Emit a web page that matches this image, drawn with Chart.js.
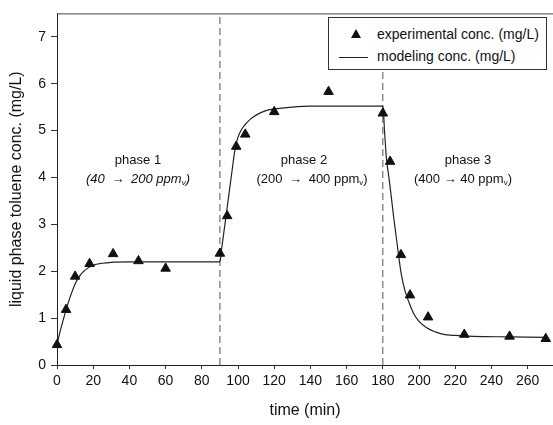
<!DOCTYPE html>
<html>
<head>
<meta charset="utf-8">
<script src="https://cdn.jsdelivr.net/npm/chart.js@4.4.1/dist/chart.umd.min.js"></script>
<style>
  body { margin: 0; background: #fff; }
  #wrap { position: relative; width: 553px; height: 425px; font-family: "Liberation Sans", Arial, sans-serif; color: #111; }
  #grafica { position: absolute; left: 0; top: 0; }
  .lbl { position: absolute; width: 160px; text-align: center; font-size: 13px; line-height: 16px; white-space: nowrap; }
  .lbl sub { font-size: 8px; vertical-align: -2px; }
  .lbl .fl { margin: 0 3px; }
  #leyenda { position: absolute; left: 328px; top: 17px; width: 219px; height: 53px; box-sizing: border-box; border: 1px solid #333; background: #fff; font-size: 14px; }
  #leyenda .tri { position: absolute; left: 22px; top: 11px; width: 0; height: 0; border-left: 5px solid transparent; border-right: 5px solid transparent; border-bottom: 9px solid #111; }
  #leyenda .lin { position: absolute; left: 10px; top: 39px; width: 29px; border-top: 1px solid #222; }
  #leyenda .t { position: absolute; left: 48px; line-height: 16px; white-space: nowrap; }
</style>
</head>
<body>
<div id="wrap">
  <canvas id="grafica" width="553" height="425"></canvas>
  <div class="lbl" style="left:58px;top:152px;">phase 1</div>
  <div class="lbl" style="left:58px;top:171px;font-style:italic;">(40 <span class="fl">→</span> 200 ppm<sub>v</sub>)</div>
  <div class="lbl" style="left:224px;top:152px;">phase 2</div>
  <div class="lbl" style="left:232px;top:171px;">(200 <span class="fl">→</span> 400 ppm<sub>v</sub>)</div>
  <div class="lbl" style="left:388px;top:152px;">phase 3</div>
  <div class="lbl" style="left:383px;top:171px;">(400 → 40 ppm<sub>v</sub>)</div>
  <div id="leyenda">
    <div class="tri"></div>
    <div class="t" style="top:8px;">experimental conc. (mg/L)</div>
    <div class="lin"></div>
    <div class="t" style="top:30px;">modeling conc. (mg/L)</div>
  </div>
</div>
<script>
// experimental points
const expTime = [0, 5, 10, 18, 31, 45, 60, 90, 94, 99, 104, 120, 150, 180, 184, 190, 195, 205, 225, 250, 270];
const expConc = [0.43, 1.18, 1.89, 2.16, 2.37, 2.22, 2.06, 2.38, 3.18, 4.66, 4.92, 5.40, 5.83, 5.37, 4.34, 2.35, 1.49, 1.02, 0.65, 0.61, 0.56];

// model curve
const modelTime = [0, 1, 2, 3, 4, 5, 6, 7, 8, 10, 12, 14, 16, 18, 21, 25, 30, 40, 90,
  91, 92, 93, 94, 95, 96, 97, 98, 99, 100, 102, 104, 107, 110, 115, 120, 130, 140, 180,
  181, 182, 183, 184, 185, 186, 187, 188, 189, 190, 191, 192, 193, 195, 197, 200, 204, 208, 213, 220, 230, 250, 270];
const modelConc = [0.42, 0.6, 0.76, 0.9, 1.04, 1.17, 1.3, 1.42, 1.53, 1.73, 1.87, 1.97, 2.04, 2.09, 2.14, 2.17, 2.19, 2.2, 2.2,
  2.49, 2.78, 3.07, 3.36, 3.65, 3.94, 4.23, 4.52, 4.72, 4.86, 5.03, 5.13, 5.25, 5.33, 5.42, 5.46, 5.5, 5.52, 5.52,
  4.95, 4.4, 4.1, 3.8, 3.48, 3.15, 2.85, 2.55, 2.25, 1.98, 1.78, 1.62, 1.49, 1.28, 1.1, 0.93, 0.8, 0.72, 0.66, 0.63, 0.61, 0.6, 0.59];

// phase changes
const phaseBounds = [90, 180];

const xTicks = [0, 20, 40, 60, 80, 100, 120, 140, 160, 180, 200, 220, 240, 260];
const yTicks = [0, 1, 2, 3, 4, 5, 6, 7];

let puntos = [];
for (let i = 0; i < expTime.length; i++){
    puntos.push({x: expTime[i], y: expConc[i]});
}
let modelo = [];
for (let i = 0; i < modelTime.length; i++){
    modelo.push({x: modelTime[i], y: modelConc[i]});
}

let datasets = [
    {
        label: 'experimental conc. (mg/L)',
        data: puntos,
        showLine: false,
        pointStyle: 'triangle',
        pointRadius: 5.5,
        pointBackgroundColor: '#111',
        pointBorderColor: '#111',
        pointBorderWidth: 1,
        clip: false,
        order: 1
    },
    {
        label: 'modeling conc. (mg/L)',
        data: modelo,
        showLine: true,
        borderColor: '#222',
        borderWidth: 1.2,
        pointRadius: 0,
        cubicInterpolationMode: 'monotone',
        order: 2
    }
];
for (let i = 0; i < phaseBounds.length; i++){
    datasets.push({
        label: 'phase' + i,
        data: [{x: phaseBounds[i], y: 0}, {x: phaseBounds[i], y: 7.5}],
        showLine: true,
        borderColor: '#555',
        borderWidth: 1,
        borderDash: [7, 4],
        pointRadius: 0,
        order: 3
    });
}

const bordeSuperior = {
    id: 'bordeSuperior',
    afterDraw(chart) {
        const a = chart.chartArea;
        const ctx = chart.ctx;
        ctx.save();
        ctx.strokeStyle = '#444';
        ctx.lineWidth = 1;
        ctx.beginPath();
        ctx.moveTo(a.left, a.top + 0.5);
        ctx.lineTo(a.right, a.top + 0.5);
        ctx.stroke();
        ctx.restore();
    }
};

const fuente = {family: '"Liberation Sans", Arial, sans-serif', size: 14};

const ctx = document.getElementById('grafica').getContext('2d');
const myChart = new Chart(ctx, {
    type: 'scatter',
    data: { datasets: datasets },
    plugins: [bordeSuperior],
    options: {
        responsive: false,
        animation: false,
        layout: { autoPadding: false, padding: {top: 8, right: 0, left: 0, bottom: 0} },
        plugins: {
            legend: { display: false },
            tooltip: { enabled: false }
        },
        scales: {
            x: {
                type: 'linear',
                min: 0,
                max: 274,
                afterFit: function(scale){ scale.height = 60; },
                afterBuildTicks: function(scale){ scale.ticks = xTicks.map(v => ({value: v})); },
                grid: { drawOnChartArea: false, drawTicks: true, tickLength: 4, color: '#333' },
                border: { color: '#222', width: 1 },
                ticks: { color: '#111', font: fuente, padding: 4, maxRotation: 0 },
                title: { display: true, text: 'time (min)', color: '#111',
                         font: {family: '"Liberation Sans", Arial, sans-serif', size: 16}, padding: {top: 0, bottom: 5} }
            },
            y: {
                min: 0,
                max: 7.5,
                afterFit: function(scale){ scale.width = 57; },
                afterBuildTicks: function(scale){ scale.ticks = yTicks.map(v => ({value: v})); },
                grid: { drawOnChartArea: false, drawTicks: true, tickLength: 6, color: '#333' },
                border: { color: '#222', width: 1 },
                ticks: { color: '#111', font: fuente, padding: 5 },
                title: { display: true, text: 'liquid phase toluene conc. (mg/L)', color: '#111',
                         font: {family: '"Liberation Sans", Arial, sans-serif', size: 16}, padding: {top: 7, bottom: 0} }
            }
        }
    }
});
</script>
</body>
</html>
